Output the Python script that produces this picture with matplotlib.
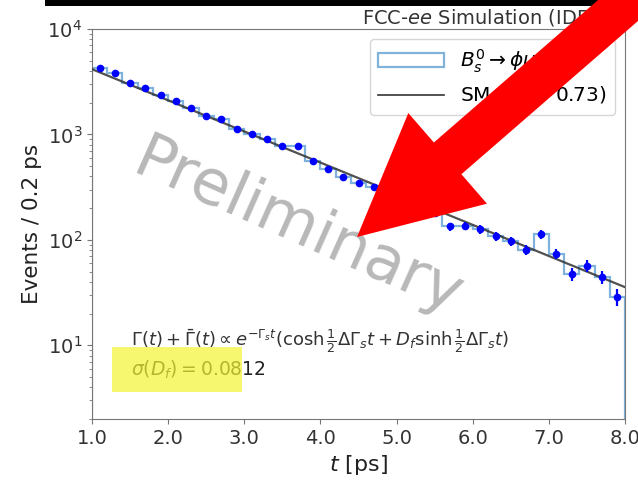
import numpy as np
import matplotlib
matplotlib.use("Agg")
import matplotlib.pyplot as plt
from matplotlib.patches import FancyArrow, Rectangle
from matplotlib.ticker import FormatStrFormatter

# bin edges: 0.2 ps bins from 1.0 to 8.0 ps
edges = np.round(np.arange(1.0, 8.0001, 0.2), 2)
centers = 0.5 * (edges[:-1] + edges[1:])

# events per bin
counts = np.array([4277, 3836, 3108, 2786, 2352, 2095, 1796, 1494, 1411, 1117,
                   1015, 902, 780, 780, 565, 471, 392, 347, 320, 286,
                   246, 215, 181, 134, 136, 126, 108, 97.7, 80.8, 113,
                   74, 47.7, 56.9, 44.4, 28.8])

# SM curve (straight in log scale)
sm_t = [1.0, 4.5, 8.0]
sm_v = [4157, 385, 35.6]

W, H = 638, 480
fig = plt.figure(figsize=(W / 100, H / 100), dpi=100)
ax = fig.add_axes([92 / W, 1 - 419 / H, (625 - 92) / W, (419 - 29) / H])

ax.stairs(counts, edges, color="#7fb3dc", lw=1.6, baseline=0, zorder=2)
ax.plot(sm_t, sm_v, color="#333333", lw=1.6, alpha=0.85, zorder=3)
ax.errorbar(centers, counts, yerr=np.sqrt(counts), fmt="o", color="blue",
            ms=4.5, elinewidth=1.6, capsize=0, zorder=4)

ax.set_yscale("log")
ax.set_xlim(1.0, 8.0)
ax.set_ylim(2, 1e4)
ax.set_xticks(np.arange(1, 9))
ax.xaxis.set_major_formatter(FormatStrFormatter("%.1f"))
ax.tick_params(labelsize=14, colors="#333333")
ax.tick_params(which="both", color="#777777")
for s in ax.spines.values():
    s.set_color("#777777")

ax.set_xlabel("$t$ [ps]", fontsize=16, color="#222222")
ax.set_ylabel("Events / 0.2 ps", fontsize=15.5, color="#222222")
fig.text(362 / W, 1 - 17 / H, "FCC-$\\mathit{ee}$ Simulation (IDEA)",
         fontsize=14, color="#333333", ha="left", va="center")

# legend handles
hist_handle = Rectangle((0, 0), 1, 1, fill=False, edgecolor="#7fb3dc", lw=1.6)
line_handle = plt.Line2D([], [], color="#333333", lw=1.2)
ax.legend([hist_handle, line_handle],
          ["$B_s^0 \\rightarrow \\phi\\mu^+\\mu^-$", "SM ($D_f$ = 0.73)"],
          loc="upper right", fontsize=14.5, handlelength=3.3)

ax.text(0.073, 0.2, "$\\Gamma(t)+\\bar{\\Gamma}(t) \\propto e^{-\\Gamma_s t}"
        "(\\cosh\\frac{1}{2}\\Delta\\Gamma_s t + D_f \\sinh\\frac{1}{2}\\Delta\\Gamma_s t)$",
        transform=ax.transAxes, fontsize=13, color="#333333", va="center")
ax.text(0.073, 0.125, "$\\sigma(D_f) = 0.0812$", transform=ax.transAxes,
        fontsize=13.5, color="#222222", va="center")

# yellow highlight over sigma text
fig.add_artist(Rectangle((112 / W, 1 - 392 / H), 130 / W, 45 / H,
                         transform=fig.transFigure, color="#f5f532",
                         alpha=0.7, lw=0, zorder=10))

# Preliminary watermark
fig.text(298 / W, 1 - 228 / H, "Preliminary", fontsize=45, color="#b8b8b8",
         rotation=-24, ha="center", va="center", rotation_mode="anchor",
         zorder=11)

# black bar along top of the slide
fig.add_artist(Rectangle((45 / W, 1 - 6 / H), 1, 6 / H,
                         transform=fig.transFigure, color="black", lw=0, zorder=12))

# red arrow (inches)
tip = (3.57, 2.43)
tail = (6.97, 5.38)
arrow = FancyArrow(tail[0], tail[1], tip[0] - tail[0], tip[1] - tail[1],
                   width=0.42, head_width=1.2, head_length=1.2,
                   length_includes_head=True, color="#ff0000", lw=0,
                   transform=fig.dpi_scale_trans, zorder=13)
fig.add_artist(arrow)

fig.savefig("out.png", dpi=100)
